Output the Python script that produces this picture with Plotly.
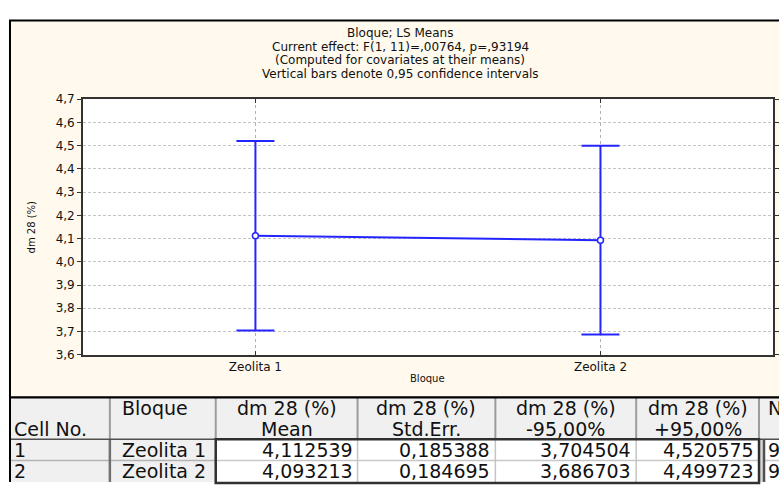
import plotly.graph_objects as go

# ---------------- data ----------------
categories = ["Zeolita 1", "Zeolita 2"]
cell_no = ["1", "2"]
means = [4.112539, 4.093213]
std_err = [0.185388, 0.184695]
lower95 = [3.704504, 3.686703]
upper95 = [4.520575, 4.499723]
n_obs = ["9", "9"]

y_tick_vals = [3.6, 3.7, 3.8, 3.9, 4.0, 4.1, 4.2, 4.3, 4.4, 4.5, 4.6, 4.7]
y_tick_text = ["3,6", "3,7", "3,8", "3,9", "4,0", "4,1", "4,2", "4,3", "4,4", "4,5", "4,6", "4,7"]

title_lines = [
    "Bloque; LS Means",
    "Current effect: F(1, 11)=,00764, p=,93194",
    "(Computed for covariates at their means)",
    "Vertical bars denote 0,95 confidence intervals",
]
x_title = "Bloque"
y_title = "dm 28 (%)"

table_headers = [["", "Cell No."], ["Bloque", ""], ["dm 28 (%)", "Mean"], ["dm 28 (%)", "Std.Err."],
                 ["dm 28 (%)", "-95,00%"], ["dm 28 (%)", "+95,00%"], ["N", ""]]

# ---------------- helpers ----------------
W, H = 779, 487


def fx(x):
    return x / W


def fy(y):
    return 1 - y / H


def fmt(v):
    return f"{v:.6f}".replace(".", ",")


err_plus = [u - m for u, m in zip(upper95, means)]
err_minus = [m - l for m, l in zip(means, lower95)]

BLUE = "#2424FF"
CREAM = "#FFF9EE"
FONT = "DejaVu Sans"
TXT = "#111111"

fig = go.Figure()

fig.add_trace(go.Scatter(
    x=categories, y=means, mode="lines+markers",
    line=dict(color=BLUE, width=2),
    marker=dict(symbol="circle", size=6, color="white", line=dict(color=BLUE, width=1.5)),
    error_y=dict(type="data", symmetric=False, array=err_plus, arrayminus=err_minus,
                 color=BLUE, thickness=2, width=19),
    showlegend=False, hoverinfo="skip",
))

shapes = [
    dict(type="rect", xref="paper", yref="paper", x0=fx(10), x1=fx(820), y0=fy(402), y1=fy(14),
         fillcolor=CREAM, line=dict(color="black", width=2), layer="below"),
    dict(type="rect", xref="x domain", yref="y domain", x0=0, x1=1, y0=0, y1=1,
         fillcolor="white", line=dict(width=0), layer="below"),
]

annotations = []
for i, t in enumerate(title_lines):
    annotations.append(dict(text=t, xref="paper", yref="paper", x=fx(401), y=fy(27 + 14 * i),
                            xanchor="center", yanchor="middle", showarrow=False,
                            font=dict(family=FONT, size=12, color=TXT)))
annotations.append(dict(text=x_title, xref="paper", yref="paper", x=fx(428), y=fy(383),
                        xanchor="center", yanchor="middle", showarrow=False,
                        font=dict(family=FONT, size=10, color=TXT)))
annotations.append(dict(text=y_title, xref="paper", yref="paper", x=fx(32), y=fy(226),
                        xanchor="center", yanchor="middle", showarrow=False, textangle=-90,
                        font=dict(family=FONT, size=10, color=TXT)))

# ---------------- table (drawn with shapes + text) ----------------
col_edges = [10, 110, 216, 358, 496, 637, 760, 765, 830]
row_edges = [402, 445, 467, 489]
col_of = [0, 1, 2, 3, 4, 5, 7]  # starting edge index for each column


def rect(x0, x1, y0, y1, fill, lc=None, lw=0):
    return dict(type="rect", xref="paper", yref="paper", x0=fx(x0), x1=fx(x1), y0=fy(y1), y1=fy(y0),
                fillcolor=fill, line=dict(color=lc or fill, width=lw), layer="above")


def seg(x0, y0, x1, y1, color, width):
    return dict(type="line", xref="paper", yref="paper", x0=fx(x0), x1=fx(x1), y0=fy(y0), y1=fy(y1),
                line=dict(color=color, width=width), layer="above")


# fills
shapes.append(rect(10, 830, 402, 445, "#F0F0F0"))
shapes.append(rect(10, 216, 445, 489, "#F0F0F0"))
shapes.append(rect(216, 760, 445, 489, "white"))
shapes.append(rect(760, 765, 445, 489, "#D8D8D8"))
shapes.append(rect(765, 830, 445, 489, "white"))
# header separators
for xe in [110, 216, 358, 496, 637, 760]:
    shapes.append(seg(xe, 402, xe, 445, "#9C9C9C", 2))
# row separators
shapes.append(seg(10, 467, 216, 467, "#B4B4B4", 1.5))
shapes.append(seg(216, 467, 760, 467, "#C8C8C8", 1.5))
shapes.append(seg(765, 467, 830, 467, "#C8C8C8", 1.5))
for xe in [358, 496, 637]:
    shapes.append(seg(xe, 445, xe, 489, "#C4C4C4", 1.5))
shapes.append(seg(110, 445, 110, 489, "#707070", 2.5))
# header bottom
shapes.append(seg(10, 445, 830, 445, "#505050", 1.5))
# dark block borders
shapes.append(dict(type="rect", xref="paper", yref="paper", x0=fx(216), x1=fx(760), y0=fy(490), y1=fy(445),
                   line=dict(color="#303030", width=2.5), layer="above"))
shapes.append(seg(765, 445, 765, 489, "#505050", 2.5))
shapes.append(seg(10, 402, 10, 489, "black", 2))
shapes.append(seg(10, 402, 830, 402, "black", 2))

TF = dict(family=FONT, size=19, color=TXT)
header_y = [413, 434]
for ci, (l1, l2) in enumerate(table_headers):
    x0 = col_edges[col_of[ci]]
    x1 = col_edges[col_of[ci] + 1]
    for line_txt, yy in zip([l1, l2], header_y):
        if not line_txt:
            continue
        if ci in (0, 1, 6):
            annotations.append(dict(text=line_txt, xref="paper", yref="paper", x=fx(x0 + (3 if ci != 1 else 11)),
                                    y=fy(yy), xanchor="left", yanchor="middle", showarrow=False, font=TF,
                                    borderpad=0))
        else:
            annotations.append(dict(text=line_txt, xref="paper", yref="paper", x=fx((x0 + x1) / 2),
                                    y=fy(yy), xanchor="center", yanchor="middle", showarrow=False, font=TF,
                                    borderpad=0))

columns = [cell_no, categories, [fmt(v) for v in means], [fmt(v) for v in std_err],
           [fmt(v) for v in lower95], [fmt(v) for v in upper95], n_obs]
row_y = [456, 478]
for ci, col in enumerate(columns):
    x0 = col_edges[col_of[ci]]
    x1 = col_edges[col_of[ci] + 1]
    for ri, val in enumerate(col):
        if ci in (0, 1, 6):
            annotations.append(dict(text=val, xref="paper", yref="paper", x=fx(x0 + (3 if ci != 1 else 11)),
                                    y=fy(row_y[ri]), xanchor="left", yanchor="middle", showarrow=False, font=TF,
                                    borderpad=0))
        else:
            annotations.append(dict(text=val, xref="paper", yref="paper", x=fx(x1 - 4),
                                    y=fy(row_y[ri]), xanchor="right", yanchor="middle", showarrow=False, font=TF,
                                    borderpad=0))

fig.update_layout(
    width=W, height=H,
    margin=dict(l=0, r=0, t=0, b=0),
    paper_bgcolor="white", plot_bgcolor="white",
    shapes=shapes, annotations=annotations,
    xaxis=dict(domain=[fx(83), fx(774)], type="category", range=[-0.5, 1.5],
               showgrid=True, gridcolor="#B0B0B0", griddash="dot", gridwidth=1,
               showline=True, linecolor="#333333", linewidth=1.5, mirror="ticks",
               ticks="inside", ticklen=4, tickcolor="#333333",
               tickfont=dict(family=FONT, size=12, color=TXT), zeroline=False, fixedrange=True),
    yaxis=dict(domain=[fy(358), fy(95)], range=[3.6, 4.7],
               tickvals=y_tick_vals, ticktext=y_tick_text,
               showgrid=True, gridcolor="#C4C4C4", griddash="3px,2px", gridwidth=1,
               showline=True, linecolor="#333333", linewidth=1.5, mirror="ticks",
               ticks="outside", ticklen=4, tickcolor="#333333",
               tickfont=dict(family=FONT, size=12, color=TXT), zeroline=False, fixedrange=True),
)

fig.write_html("out.html", config={"displayModeBar": False},
               post_script="document.body.style.margin='0';document.body.style.overflow='hidden';")
